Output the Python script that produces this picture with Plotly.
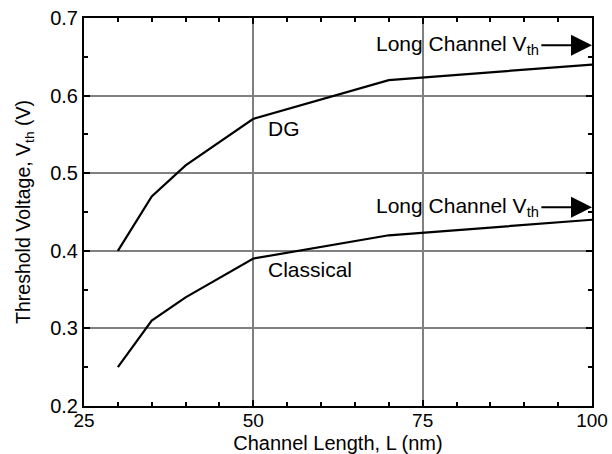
import plotly.graph_objects as go

length_nm = [30, 35, 40, 50, 70, 100]
vth_dg = [0.40, 0.47, 0.51, 0.57, 0.62, 0.64]
vth_classical = [0.25, 0.31, 0.34, 0.39, 0.42, 0.44]
x_ticks = [25, 50, 75, 100]
y_ticks = [0.2, 0.3, 0.4, 0.5, 0.6, 0.7]
y_tick_text = ["0.2", "0.3", "0.4", "0.5", "0.6", "0.7"]
long_channel_dg = 0.665
long_channel_classical = 0.456

FONT = "Liberation Sans, Arial, sans-serif"

fig = go.Figure()
for ys in (vth_dg, vth_classical):
    fig.add_trace(go.Scatter(x=length_nm, y=ys, mode="lines",
                             line=dict(color="black", width=2.2),
                             showlegend=False, hoverinfo="skip"))

for yv in (long_channel_dg, long_channel_classical):
    fig.add_annotation(x=100, y=yv, ax=92.3, ay=yv, xref="x", yref="y",
                       axref="x", ayref="y", text="", showarrow=True,
                       arrowhead=2, arrowsize=2.1, arrowwidth=2,
                       arrowcolor="black")
    fig.add_annotation(x=92.5, y=yv, xref="x", yref="y", xanchor="right",
                       yanchor="middle", showarrow=False,
                       text="Long Channel V<sub>th</sub>",
                       font=dict(family=FONT, size=21, color="black"))

fig.add_annotation(x=51.8, y=0.558, xref="x", yref="y", xanchor="left",
                   yanchor="middle", showarrow=False, text="DG",
                   font=dict(family=FONT, size=21, color="black"))
fig.add_annotation(x=51.8, y=0.376, xref="x", yref="y", xanchor="left",
                   yanchor="middle", showarrow=False, text="Classical",
                   font=dict(family=FONT, size=21, color="black"))

fig.update_xaxes(range=[25, 100], tickvals=x_ticks, ticks="inside",
                 ticklen=6, tickwidth=1.5, tickcolor="black",
                 showline=True, linecolor="black", linewidth=2, mirror="allticks",
                 showgrid=True, gridcolor="#808080", gridwidth=1.5,
                 minor=dict(dtick=5, ticks="inside", ticklen=4, tickwidth=1.5,
                            tickcolor="black", showgrid=False),
                 tickfont=dict(family=FONT, size=19, color="black"),
                 ticklabelstandoff=-4,
                 ticklabeloverflow="allow", automargin=False,
                 title=dict(text="Channel Length, L (nm)", standoff=10,
                            font=dict(family=FONT, size=20, color="black")),
                 zeroline=False)
fig.update_yaxes(range=[0.2, 0.7], tickvals=y_ticks, ticktext=y_tick_text,
                 ticks="inside",
                 ticklen=6, tickwidth=1.5, tickcolor="black",
                 showline=True, linecolor="black", linewidth=2, mirror="allticks",
                 showgrid=True, gridcolor="#808080", gridwidth=1.5,
                 minor=dict(dtick=0.05, ticks="inside", ticklen=4, tickwidth=1.5,
                            tickcolor="black", showgrid=False),
                 tickfont=dict(family=FONT, size=20, color="black"),
                 ticklabeloverflow="allow", automargin=False,
                 title=dict(text="Threshold Voltage, V<sub>th</sub> (V)", standoff=14,
                            font=dict(family=FONT, size=19.5, color="black")),
                 zeroline=False)

fig.update_layout(width=612, height=454, plot_bgcolor="white",
                  paper_bgcolor="white",
                  margin=dict(l=84, r=20, t=18, b=48))

fig.write_html("out.html", config={"displayModeBar": False},
               post_script="document.body.style.margin='0';"
                           "document.body.style.overflow='hidden';")
